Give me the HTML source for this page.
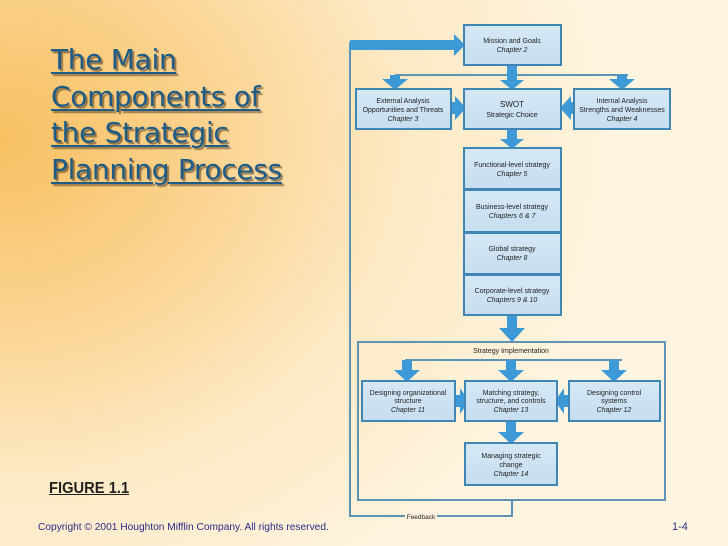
<!DOCTYPE html>
<html><head><meta charset="utf-8"><style>
html,body{margin:0;padding:0}
body{width:728px;height:546px;position:relative;overflow:hidden;font-family:"Liberation Sans",sans-serif;
background:radial-gradient(ellipse 620px 520px at 0px 140px,#f8c062 0%,#fbd492 35%,#fde9c4 65%,#fff4df 100%);}
.t{position:absolute;left:51px;top:42px;font-family:"DejaVu Sans",sans-serif;font-size:28px;line-height:36.5px;color:#1d5c86;text-decoration:underline;text-decoration-thickness:2px;text-underline-offset:3px;text-shadow:2px 2px 1px rgba(60,40,20,.55);letter-spacing:-0.3px}
.fig{position:absolute;left:49px;top:480px;font-size:16px;font-weight:bold;color:#222;text-decoration:underline;transform:scaleX(.92);transform-origin:left}
.cp{position:absolute;left:38px;top:522px;font-size:10.2px;color:#2a2a8a;white-space:nowrap}
.pg{position:absolute;left:672px;top:521px;font-size:11px;color:#2a2a8a}
svg{position:absolute;left:0;top:0}
</style></head><body>
<div class="t">The Main<br>Components of<br>the Strategic<br>Planning Process</div>
<div class="fig">FIGURE 1.1</div>
<div class="cp">Copyright © 2001 Houghton Mifflin Company. All rights reserved.</div>
<div class="pg">1-4</div>
<svg width="728" height="546" font-family="Liberation Sans, sans-serif" font-size="7" fill="#222">
<defs>
<linearGradient id="g" x1="0" y1="0" x2="0" y2="1"><stop offset="0" stop-color="#d6e8f5"/><stop offset="1" stop-color="#c6def0"/></linearGradient>
</defs>
<g fill="none" stroke="#5e93b4" stroke-width="2">
<polyline points="350,42 350,516 512,516 512,500"/>
<rect x="358" y="342" width="307" height="158"/>
<line x1="395" y1="75" x2="628" y2="75" stroke-width="2"/>
<line x1="405" y1="360" x2="622" y2="360" stroke-width="2"/>
</g>
<rect x="405" y="511" width="32" height="10" fill="#fff2dc"/>
<text x="421" y="519" text-anchor="middle" font-size="6.5">Feedback</text>
<g fill="#3d9ad6">
<polygon points="350,40 454,40 454,34 465,45 454,56 454,50 350,50"/>
<polygon points="390,75 400,75 400,79 408,79 395,90 382,79 390,79"/>
<polygon points="507,65 517,65 517,80 524,80 512,90 500,80 507,80"/>
<polygon points="617,75 627,75 627,79 635,79 622,90 609,79 617,79"/>
<polygon points="451,102 455,102 455,96 466,108 455,120 455,114 451,114"/>
<polygon points="574,102 571,102 571,96 560,108 571,120 571,114 574,114"/>
<polygon points="507,129 517,129 517,139 524,139 512,149 500,139 507,139"/>
<polygon points="507,315 517,315 517,328 525,328 512,342 499,328 507,328"/>
<polygon points="402,360 412,360 412,370 420,370 407,382 394,370 402,370"/>
<polygon points="506,360 516,360 516,370 524,370 511,382 498,370 506,370"/>
<polygon points="609,360 619,360 619,370 627,370 614,382 601,370 609,370"/>
<polygon points="455,395 460,395 460,388 469,401 460,414 460,407 455,407"/>
<polygon points="569,395 564,395 564,388 555,401 564,414 564,407 569,407"/>
<polygon points="506,421 516,421 516,432 524,432 511,444 498,432 506,432"/>
</g>
<g fill="url(#g)" stroke="#3f86b4" stroke-width="2">
<rect x="464" y="25" width="97" height="40"/>
<rect x="356" y="89" width="95" height="40"/>
<rect x="464" y="89" width="97" height="40"/>
<rect x="574" y="89" width="96" height="40"/>
<rect x="464" y="148" width="97" height="41"/>
<rect x="464" y="190" width="97" height="42"/>
<rect x="464" y="233" width="97" height="41"/>
<rect x="464" y="275" width="97" height="40"/>
<rect x="362" y="381" width="93" height="40"/>
<rect x="465" y="381" width="92" height="40"/>
<rect x="569" y="381" width="91" height="40"/>
<rect x="465" y="443" width="92" height="42"/>
</g>
<g text-anchor="middle">
<text x="512" y="43">Mission and Goals</text><text x="512" y="52" font-style="italic">Chapter 2</text>
<text x="403" y="103">External Analysis</text><text x="403" y="112">Opportunities and Threats</text><text x="403" y="121" font-style="italic">Chapter 3</text>
<text x="512" y="107" font-size="8">SWOT</text><text x="512" y="117">Strategic Choice</text>
<text x="622" y="103">Internal Analysis</text><text x="622" y="112">Strengths and Weaknesses</text><text x="622" y="121" font-style="italic">Chapter 4</text>
<text x="512" y="167">Functional-level strategy</text><text x="512" y="176" font-style="italic">Chapter 5</text>
<text x="512" y="209">Business-level strategy</text><text x="512" y="218" font-style="italic">Chapters 6 &amp; 7</text>
<text x="512" y="251">Global strategy</text><text x="512" y="260" font-style="italic">Chapter 8</text>
<text x="512" y="293">Corporate-level strategy</text><text x="512" y="302" font-style="italic">Chapters 9 &amp; 10</text>
<text x="511" y="353">Strategy Implementation</text>
<text x="408" y="395">Designing organizational</text><text x="408" y="403">structure</text><text x="408" y="412" font-style="italic">Chapter 11</text>
<text x="511" y="395">Matching strategy,</text><text x="511" y="403">structure, and controls</text><text x="511" y="412" font-style="italic">Chapter 13</text>
<text x="614" y="395">Designing control</text><text x="614" y="403">systems</text><text x="614" y="412" font-style="italic">Chapter 12</text>
<text x="511" y="458">Managing strategic</text><text x="511" y="467">change</text><text x="511" y="476" font-style="italic">Chapter 14</text>
</g>
</svg>
</body></html>
